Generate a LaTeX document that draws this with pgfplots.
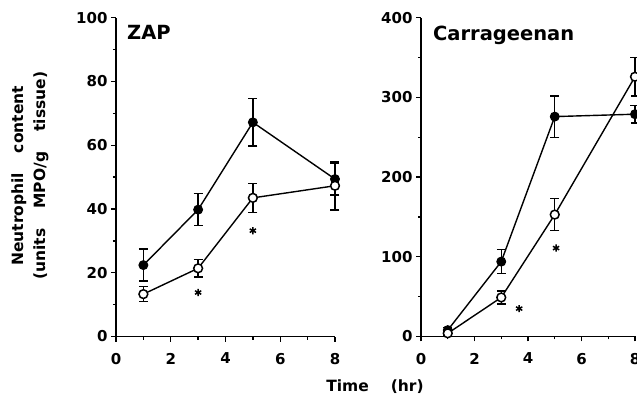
\documentclass[border=0pt]{standalone}
\usepackage{pgfplots}
\pgfplotsset{compat=1.18}
\usepackage{fontspec}
\setmainfont{DejaVu Sans}
\pgfplotsset{
  panel/.style={
    scale only axis, height=318.7bp, anchor=south west,
    axis lines=left, axis line style={-, line width=1.4bp},
    xmin=0, xmax=8, ymin=0, xtick={0,2,4,6,8},
    minor x tick num=1, minor y tick num=1,
    tick align=outside, major tick length=5bp, minor tick length=3bp,
    tick style={black, line width=1.3bp},
    tick label style={font=\bfseries\fontsize{15bp}{15bp}\selectfont},
    xticklabel style={yshift=-8bp},
    /pgf/number format/assume math mode=true,
    clip=false,
  },
  filledser/.style={black, line width=1.4bp, mark=*, mark size=4.4bp, mark options={fill=black, solid, line width=1.1bp}},
  openser/.style={black, line width=1.4bp, mark=*, mark size=4.4bp, mark options={fill=white, solid, line width=1.5bp}},
  starser/.style={only marks, black, mark=asterisk, mark size=3.6bp, line width=1.5bp},
}
\begin{document}
\begin{tikzpicture}
\useasboundingbox (0,0) rectangle (637bp,407bp);
\clip (0,0) rectangle (637bp,407bp);
% Left panel: ZAP
\begin{axis}[panel, at={(116bp,70.5bp)}, width=219bp, ymax=100, ytick={0,20,...,100},
  ylabel={\makebox[180bp][s]{Neutrophil content}\\\makebox[208bp][s]{(units MPO/g tissue)}},
  ylabel style={align=center, font=\bfseries\fontsize{15.5bp}{22bp}\selectfont, at={(axis description cs:-0.393,0.504)}, anchor=center}]
\addplot[filledser, error bars/.cd, y dir=both, y explicit, error bar style={line width=1.4bp}, error mark options={rotate=90, mark size=4.5bp, line width=1.4bp}]
  table[x=x, y=y, y error=e] {
x y e
1 22.4 5.0
3 39.8 5.0
5 67.2 7.4
8 49.4 5.0
};
\addplot[openser, error bars/.cd, y dir=both, y explicit, error bar style={line width=1.4bp}, error mark options={rotate=90, mark size=4.5bp, line width=1.4bp}]
  table[x=x, y=y, y error=e] {
x y e
1 13.3 2.4
3 21.4 2.7
5 43.5 4.5
8 47.3 7.6
};
\addplot[starser] coordinates {(3,13.8) (5,33.2)};
\node[anchor=base west, font=\bfseries\fontsize{19.5bp}{19.5bp}\selectfont] at (rel axis cs:0.035,0.933) {ZAP};
\end{axis}
% Right panel: Carrageenan
\begin{axis}[panel, at={(421bp,70.5bp)}, width=214bp, ymax=400, ytick={0,100,...,400}]
\addplot[filledser, error bars/.cd, y dir=both, y explicit, error bar style={line width=1.4bp}, error mark options={rotate=90, mark size=4.5bp, line width=1.4bp}]
  table[x=x, y=y, y error=e] {
x y e
1 8 3
3 94 15
5 276 26
8 279 11
};
\addplot[openser, error bars/.cd, y dir=both, y explicit, error bar style={line width=1.4bp}, error mark options={rotate=90, mark size=4.5bp, line width=1.4bp}]
  table[x=x, y=y, y error=e] {
x y e
1 4 2
3 49 8
5 153 20
8 326 24
};
\addplot[starser] coordinates {(3.67,35) (5.05,111)};
\node[anchor=base west, font=\bfseries\fontsize{19.5bp}{19.5bp}\selectfont] at (rel axis cs:0.04,0.929) {Carrageenan};
\end{axis}
\node[font=\bfseries\fontsize{15.5bp}{15.5bp}\selectfont] at (375bp,20bp) {Time\hspace{22bp}(hr)};
\end{tikzpicture}
\end{document}
